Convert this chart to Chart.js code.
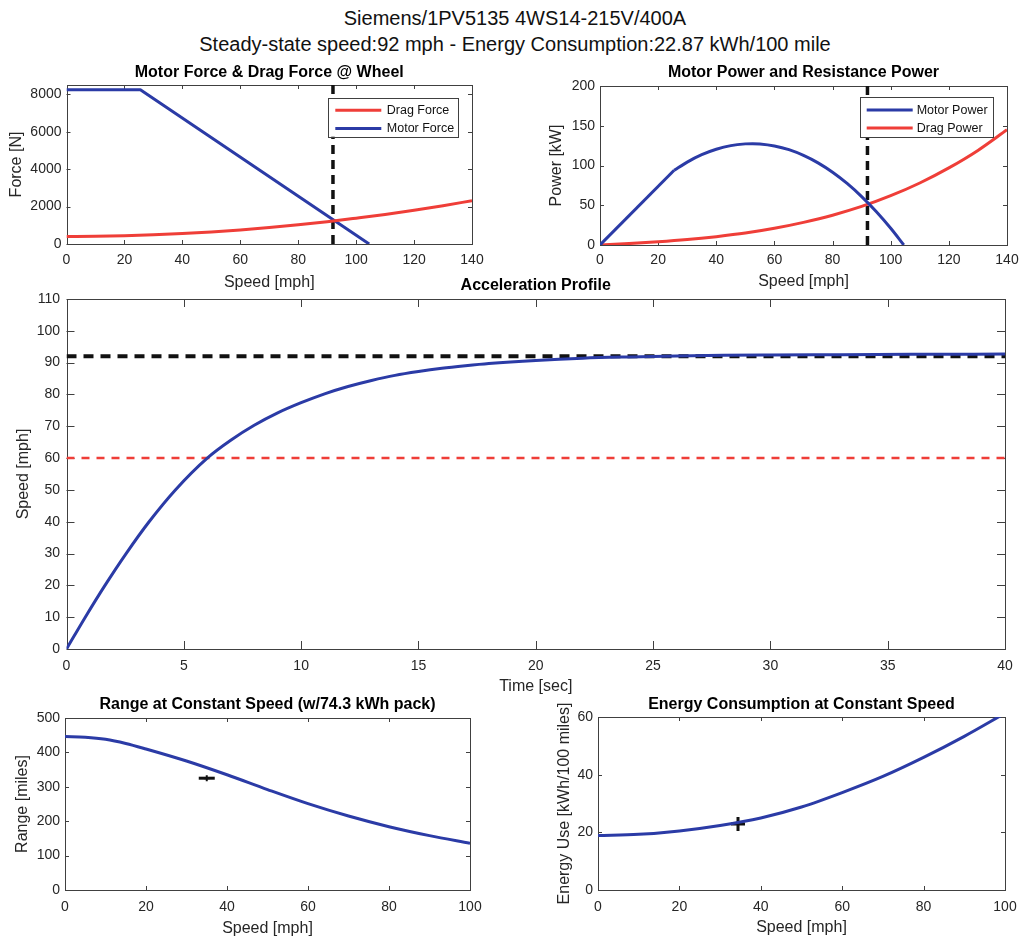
<!DOCTYPE html>
<html><head><meta charset="utf-8">
<script src="https://cdn.jsdelivr.net/npm/chart.js@4.4.1/dist/chart.umd.min.js"></script>
<style>
html,body{margin:0;padding:0;background:#fff;width:1019px;height:941px;overflow:hidden;position:relative;font-family:"Liberation Sans",Arial,Helvetica,sans-serif}
canvas{position:absolute}
.t{position:absolute;left:0;width:1030px;text-align:center;font-size:20px;line-height:24px;color:#111;white-space:nowrap}
</style></head><body>
<div class="t" style="top:6px">Siemens/1PV5135 4WS14-215V/400A</div>
<div class="t" style="top:32px">Steady-state speed:92 mph - Energy Consumption:22.87 kWh/100 mile</div>
<canvas id="cForce"></canvas>
<canvas id="cPower"></canvas>
<canvas id="cAccel"></canvas>
<canvas id="cRange"></canvas>
<canvas id="cEnergy"></canvas>
<script>
// ---------------- data ----------------
const dragSpeed = [0,10,20,30,40,50,60,70,80,90,100,110,120,130,140];
const dragForce = [400,410,440,490,555,645,750,880,1025,1190,1380,1580,1805,2050,2315];
const motorForceSpeed = [0,25.5,104.5];
const motorForce = [8250,8250,0];
const powerLowSpeed = [0,25.5];
const motorPowerLow = [0,94.0];
const powerHighSpeed = [25.5,30,35,40,45,50,52.5,55,60,65,70,75,80,85,90,95,100,104.5];
const motorPowerHigh = [94.0,104.3,113.6,120.4,125.0,127.2,127.5,127.1,124.6,119.9,112.7,103.3,91.5,77.4,60.9,42.1,21.0,0];
const dragPowerSpeed = [0,10,20,30,40,50,60,70,80,90,100,110,120,130,140];
const dragPower = [0,1.8,4,6.8,10.5,15,21,28.5,37.5,48.5,62,78,97,119,145];
const steadySpeed = 92;
const targetSpeed = 60;
const accelTime = [0,0.8,1.64,2.54,3.52,4.64,6,7,8,9,10,11,12,13,14,15,16,17,18,20,22,24,26,28,30,33,36,40];
const accelSpeed = [0,10,20,30,40,50,60,65.6,70.3,74.2,77.4,80.2,82.5,84.4,86,87.2,88.2,89,89.7,90.7,91.4,91.8,92.1,92.3,92.4,92.5,92.6,92.7];
const rangeSpeed = [0,5,10,15,20,30,40,50,60,70,80,90,100];
const rangeMiles = [446,444,438,426,410,375,335,292,251,215,184,158,136];
const energySpeed = [0,10,20,30,40,50,60,70,80,90,100];
const energyUse = [18.9,19.3,20.5,22.4,25.0,28.8,33.8,39.4,46,53.3,61.3];
const rangeMarkSpeed = [35];
const rangeMarkMiles = [325];
const energyMarkSpeed = [34.4];
const energyMarkUse = [22.9];
// tick labels
const forceXTicks = [0,20,40,60,80,100,120,140];
const forceYTicks = [0,2000,4000,6000,8000];
const powerXTicks = [0,20,40,60,80,100,120,140];
const powerYTicks = [0,50,100,150,200];
const accelXTicks = [0,5,10,15,20,25,30,35,40];
const accelYTicks = [0,10,20,30,40,50,60,70,80,90,100,110];
const rangeXTicks = [0,20,40,60,80,100];
const rangeYTicks = [0,100,200,300,400,500];
const energyXTicks = [0,20,40,60,80,100];
const energyYTicks = [0,20,40,60];

// ---------------- styling ----------------
const FONT = '"Liberation Sans", Arial, Helvetica, sans-serif';
const INK = '#262626';
const BLUE = '#2b3ba6';
const RED = '#ef3e38';
const pts = (xs, ys) => xs.map((x, i) => ({x, y: ys[i]}));

const matlabPlugin = {
  id: 'matlab',
  beforeDatasetsDraw(chart, args, o) {
    const {ctx, chartArea: a, scales} = chart;
    ctx.save();
    ctx.strokeStyle = '#404040';
    ctx.lineWidth = 1;
    ctx.setLineDash([]);
    ctx.strokeRect(Math.round(a.left) + 0.5, Math.round(a.top) + 0.5, Math.round(a.right) - Math.round(a.left), Math.round(a.bottom) - Math.round(a.top));
    const tl = o.tick || 4;
    ctx.beginPath();
    scales.x.ticks.forEach(t => {
      const p = Math.round(scales.x.getPixelForValue(t.value)) + 0.5;
      ctx.moveTo(p, a.bottom); ctx.lineTo(p, a.bottom - tl);
      ctx.moveTo(p, a.top); ctx.lineTo(p, a.top + tl);
    });
    scales.y.ticks.forEach(t => {
      const p = Math.round(scales.y.getPixelForValue(t.value)) + 0.5;
      ctx.moveTo(a.left, p); ctx.lineTo(a.left + tl, p);
      ctx.moveTo(a.right, p); ctx.lineTo(a.right - tl, p);
    });
    ctx.stroke();
    ctx.restore();
  },
  afterDatasetsDraw(chart, args, o) {
    const lg = o.legend;
    if (!lg) return;
    const {ctx, chartArea: a} = chart;
    const bx = a.right - lg.right - lg.w, by = a.top + lg.top;
    ctx.save();
    ctx.setLineDash([]);
    ctx.fillStyle = '#fff';
    ctx.fillRect(bx, by, lg.w, lg.h);
    ctx.strokeStyle = '#404040';
    ctx.lineWidth = 1;
    ctx.strokeRect(Math.round(bx) + 0.5, Math.round(by) + 0.5, lg.w, lg.h);
    lg.items.forEach((di, k) => {
      const ds = chart.data.datasets[di];
      const cy = by + lg.row0 + k * lg.rowH;
      ctx.strokeStyle = ds.borderColor;
      ctx.lineWidth = 3;
      ctx.beginPath(); ctx.moveTo(bx + 7, cy); ctx.lineTo(bx + 53, cy); ctx.stroke();
      ctx.fillStyle = '#111';
      ctx.font = '12.5px ' + FONT;
      ctx.textBaseline = 'middle';
      ctx.textAlign = 'left';
      ctx.fillText(ds.label, bx + lg.textX, cy + 0.5);
    });
    ctx.restore();
  }
};

function axis(min, max, tickVals, title, L, isX, size) {
  return {
    type: 'linear', min, max,
    grid: {display: false, drawTicks: false},
    border: {display: false},
    afterBuildTicks: s => { s.ticks = tickVals.map(v => ({value: v})); },
    afterFit: s => { if (isX) s.height = size; else s.width = size; },
    ticks: {
      color: INK, autoSkip: false, maxRotation: 0,
      font: {family: FONT, size: L.tickFont},
      padding: isX ? (L.xTickY - L.b - L.tickFont * 0.6) : L.yGap,
      callback: v => String(v)
    },
    title: {display: true, text: title, color: INK, padding: 0, font: {family: FONT, size: L.axFont}}
  };
}

function buildPanel(id, L, datasets, xa, ya, title, legend) {
  const ax = L.axFont * 1.2, tf = L.titleFont * 1.2;
  const x0 = Math.round(L.yTitleX - ax / 2);
  const y0 = Math.round(L.titleY - tf / 2);
  const W = Math.ceil(L.r - x0 + 26);
  const H = Math.ceil(L.xTitleY + ax / 2 - y0);
  const yW = L.l - x0;
  const padR = W - (L.r - x0);
  const xH = H - (L.b - y0);
  const titlePadB = L.t - y0 - tf;
  const cv = document.getElementById(id);
  cv.width = W; cv.height = H;
  cv.style.left = x0 + 'px'; cv.style.top = y0 + 'px';
  cv.style.width = W + 'px'; cv.style.height = H + 'px';
  return new Chart(cv, {
    type: 'line',
    data: {datasets},
    options: {
      responsive: false, animation: false, devicePixelRatio: 1, events: [],
      layout: {autoPadding: false, padding: {left: 0, top: 0, right: padR, bottom: 0}},
      plugins: {
        legend: {display: false}, tooltip: {enabled: false},
        title: {display: true, text: title, fullSize: false, color: '#000',
          font: {family: FONT, size: L.titleFont, weight: 'bold'}, padding: {top: 0, bottom: titlePadB}},
        matlab: {tick: L.tickLen, legend}
      },
      scales: {
        x: axis(xa[0], xa[1], xa[2], xa[3], L, true, xH),
        y: axis(ya[0], ya[1], ya[2], ya[3], L, false, yW)
      }
    },
    plugins: [matlabPlugin]
  });
}

const SMOOTH = {cubicInterpolationMode: 'monotone'};
const line = (label, data, color, extra) => Object.assign({
  label, data, borderColor: color, backgroundColor: color, borderWidth: 3,
  pointRadius: 0, fill: false, tension: 0, borderJoinStyle: 'round', borderCapStyle: 'butt'
}, extra || {});

// ---------------- panels ----------------
const LA = {l: 66.5, t: 85, r: 472, b: 244, yTitleX: 17, titleY: 72.5, xTitleY: 282, xTickY: 260, yGap: 5, tickFont: 14, axFont: 16, titleFont: 16, tickLen: 4};
buildPanel('cForce', LA, [
  line('Drag Force', pts(dragSpeed, dragForce), RED, SMOOTH),
  line('Motor Force', pts(motorForceSpeed, motorForce), BLUE),
  line('steady', pts([steadySpeed, steadySpeed], [0, 8500]), '#111', {borderDash: [9, 6], borderWidth: 3.5})
], [0, 140, forceXTicks, 'Speed [mph]'], [0, 8500, forceYTicks, 'Force [N]'],
'Motor Force & Drag Force @ Wheel',
{items: [0, 1], right: 13.7, top: 12.7, w: 130, h: 39, row0: 12.5, rowH: 18.3, textX: 58.5});

const LB = {l: 600, t: 86, r: 1007, b: 245, yTitleX: 557, titleY: 72.5, xTitleY: 281, xTickY: 260, yGap: 5, tickFont: 14, axFont: 16, titleFont: 16, tickLen: 4};
buildPanel('cPower', LB, [
  line('Motor Power', pts(powerHighSpeed, motorPowerHigh), BLUE, SMOOTH),
  line('Motor Power (constant force)', pts(powerLowSpeed, motorPowerLow), BLUE),
  line('Drag Power', pts(dragPowerSpeed, dragPower), RED, SMOOTH),
  line('steady', pts([steadySpeed, steadySpeed], [0, 200]), '#111', {borderDash: [9, 6], borderWidth: 3.5})
], [0, 140, powerXTicks, 'Speed [mph]'], [0, 200, powerYTicks, 'Power [kW]'],
'Motor Power and Resistance Power',
{items: [0, 2], right: 14.3, top: 11, w: 133, h: 40, row0: 13, rowH: 18, textX: 57});

const LC = {l: 66.5, t: 299, r: 1005, b: 649, yTitleX: 24, titleY: 286, xTitleY: 686, xTickY: 666, yGap: 6.5, tickFont: 14, axFont: 16, titleFont: 16, tickLen: 8};
buildPanel('cAccel', LC, [
  line('Speed', pts(accelTime, accelSpeed), BLUE, SMOOTH),
  line('Steady', pts([0, 40], [steadySpeed, steadySpeed]), '#111', {borderDash: [10, 7], borderWidth: 4}),
  line('Target', pts([0, 40], [targetSpeed, targetSpeed]), RED, {borderDash: [8, 7], borderWidth: 2.5})
], [0, 40, accelXTicks, 'Time [sec]'], [0, 110, accelYTicks, 'Speed [mph]'],
'Acceleration Profile', null);

const LD = {l: 65, t: 718, r: 470, b: 890, yTitleX: 23, titleY: 705, xTitleY: 928, xTickY: 907, yGap: 5, tickFont: 14, axFont: 16, titleFont: 16, tickLen: 4};
buildPanel('cRange', LD, [
  line('Range', pts(rangeSpeed, rangeMiles), BLUE, SMOOTH),
  line('Mark', pts(rangeMarkSpeed, rangeMarkMiles), '#111', {showLine: false, pointRadius: 8, pointStyle: 'line', pointBorderWidth: 3}),
  line('Mark2', pts(rangeMarkSpeed, rangeMarkMiles), '#111', {showLine: false, pointRadius: 3, pointStyle: 'cross', pointBorderWidth: 2})
], [0, 100, rangeXTicks, 'Speed [mph]'], [0, 500, rangeYTicks, 'Range [miles]'],
'Range at Constant Speed (w/74.3 kWh pack)', null);

const LE = {l: 598, t: 717, r: 1005, b: 890, yTitleX: 565, titleY: 705, xTitleY: 927, xTickY: 907, yGap: 5, tickFont: 14, axFont: 16, titleFont: 16, tickLen: 4};
buildPanel('cEnergy', LE, [
  line('Energy', pts(energySpeed, energyUse), BLUE, SMOOTH),
  line('Mark', pts(energyMarkSpeed, energyMarkUse), '#111', {showLine: false, pointRadius: 7, pointStyle: 'cross', pointBorderWidth: 3})
], [0, 100, energyXTicks, 'Speed [mph]'], [0, 60, energyYTicks, 'Energy Use [kWh/100 miles]'],
'Energy Consumption at Constant Speed', null);
</script>
</body></html>
